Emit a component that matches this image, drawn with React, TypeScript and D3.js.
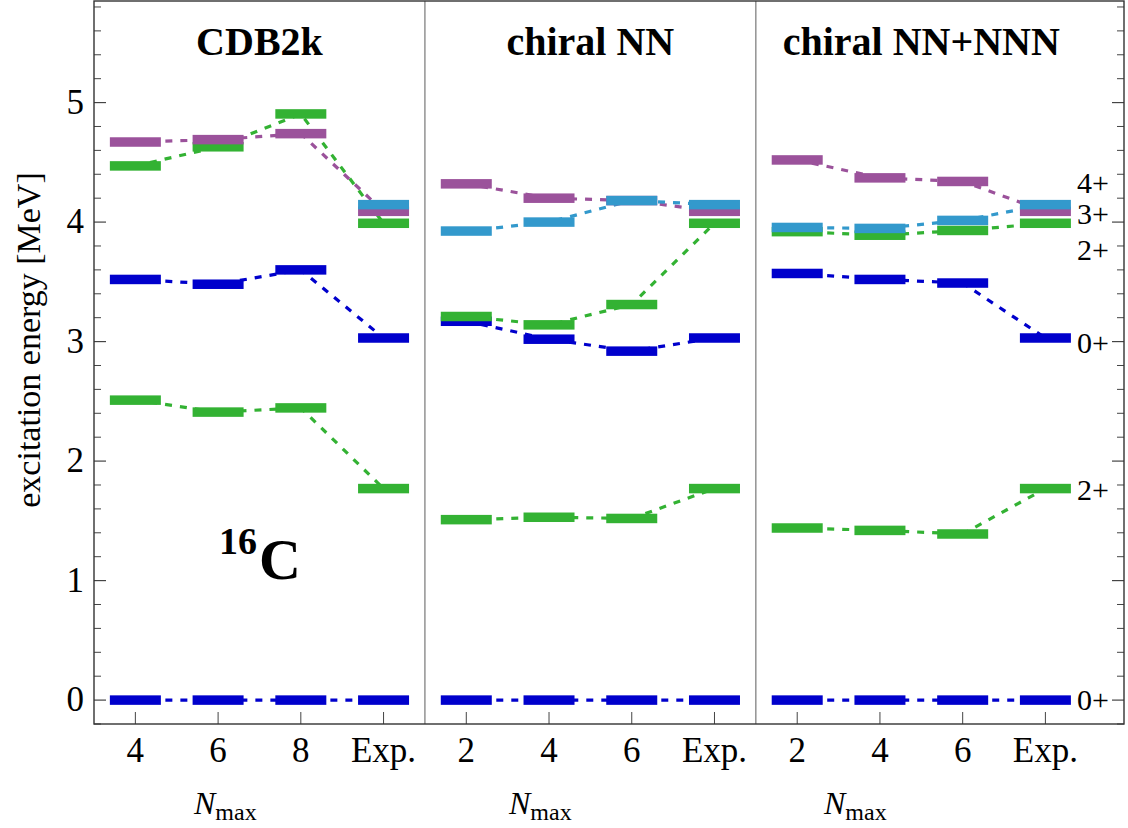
import React from "react";
import * as d3 from "d3";

// ---------- data ----------
const panelTitles = ["CDB2k", "chiral NN", "chiral NN+NNN"];
const categoryLabels = [
  ["4", "6", "8", "Exp."],
  ["2", "4", "6", "Exp."],
  ["2", "4", "6", "Exp."],
];
// excitation energies [MeV] per panel, per category (last = Exp.)
const groundZeroPlus = [
  [0, 0, 0, 0],
  [0, 0, 0, 0],
  [0, 0, 0, 0],
];
const firstTwoPlus = [
  [2.51, 2.41, 2.445, 1.77],
  [1.51, 1.53, 1.52, 1.77],
  [1.44, 1.42, 1.39, 1.77],
];
const secondZeroPlus = [
  [3.52, 3.48, 3.6, 3.03],
  [3.17, 3.02, 2.92, 3.03],
  [3.57, 3.52, 3.49, 3.03],
];
const secondTwoPlus = [
  [4.47, 4.63, 4.905, 3.99],
  [3.21, 3.14, 3.31, 3.99],
  [3.92, 3.89, 3.93, 3.99],
];
const fourPlus = [
  [4.67, 4.69, 4.74, 4.09],
  [4.32, 4.2, 4.18, 4.09],
  [4.52, 4.37, 4.34, 4.09],
];
const threePlus: (number | null)[][] = [
  [null, null, null, 4.146],
  [3.925, 4.0, 4.18, 4.146],
  [3.955, 3.947, 4.014, 4.146],
];
const rightLabels = ["4+", "3+", "2+", "0+", "2+", "0+"];
const rightLabelEnergies = [4.33, 4.07, 3.77, 2.99, 1.76, 0];
const yTickValues = [0, 1, 2, 3, 4, 5];

const BLUE = "#0000cc";
const GREEN = "#33b233";
const PURPLE = "#9b529b";
const LIGHTBLUE = "#3399cc";

const series = [
  { values: groundZeroPlus, color: BLUE },
  { values: firstTwoPlus, color: GREEN },
  { values: secondZeroPlus, color: BLUE },
  { values: secondTwoPlus, color: GREEN },
  { values: fourPlus, color: PURPLE },
  { values: threePlus, color: LIGHTBLUE },
];

// ---------- layout ----------
const W = 1128;
const H = 828;
const left = 94;
const right = 1124;
const top = 1;
const bottom = 724;
const FONT = "'Liberation Serif', 'Times New Roman', Times, serif";

export default function App() {
  const x = d3.scaleLinear().domain([0, 12.45]).range([left, right]);
  const y = d3.scaleLinear().domain([-0.2, 5.85]).range([bottom, top]);
  const cx = (p: number, j: number) => x(p * 4 + j + 0.5);
  const barW = 51;
  const barH = 9.5;

  const minorTicks = d3
    .range(-0.2, 5.85, 0.2)
    .map((v) => Math.round(v * 10) / 10)
    .filter((v) => Math.abs(v - Math.round(v)) > 1e-6);

  const line = d3
    .line<[number, number]>()
    .x((d) => d[0])
    .y((d) => d[1]);

  const lines: JSX.Element[] = [];
  const bars: JSX.Element[] = [];
  series.forEach((s, si) => {
    s.values.forEach((vals, p) => {
      const pts: [number, number][] = [];
      vals.forEach((v, j) => {
        if (v === null || v === undefined) return;
        pts.push([cx(p, j), y(v)]);
        bars.push(
          <rect
            key={`b-${si}-${p}-${j}`}
            x={cx(p, j) - barW / 2}
            y={y(v) - barH / 2}
            width={barW}
            height={barH}
            fill={s.color}
          />
        );
      });
      if (pts.length > 1) {
        lines.push(
          <path
            key={`l-${si}-${p}`}
            d={line(pts) || ""}
            fill="none"
            stroke={s.color}
            strokeWidth={3.2}
            strokeDasharray="7,8"
          />
        );
      }
    });
  });

  return (
    <svg
      width={W}
      height={H}
      style={{ position: "absolute", left: 0, top: 0, background: "#fff", fontFamily: FONT }}
    >
      <rect x={0} y={0} width={W} height={H} fill="#fff" />
      {/* panel dividers */}
      {[1, 2].map((p) => (
        <line
          key={`div${p}`}
          x1={x(p * 4)}
          x2={x(p * 4)}
          y1={top}
          y2={bottom}
          stroke="#777"
          strokeWidth={1.2}
        />
      ))}
      {/* y ticks left & right */}
      {yTickValues.map((v) => (
        <g key={`yt${v}`}>
          <line x1={left} x2={left + 12} y1={y(v)} y2={y(v)} stroke="#444" strokeWidth={1.2} />
          <line x1={right} x2={right - 12} y1={y(v)} y2={y(v)} stroke="#444" strokeWidth={1.2} />
          <text x={84} y={y(v) + 11} fontSize={35} textAnchor="end" fill="#000">
            {v}
          </text>
        </g>
      ))}
      {minorTicks.map((v) => (
        <g key={`ym${v}`}>
          <line x1={left} x2={left + 7} y1={y(v)} y2={y(v)} stroke="#444" strokeWidth={1} />
          <line x1={right} x2={right - 7} y1={y(v)} y2={y(v)} stroke="#444" strokeWidth={1} />
        </g>
      ))}
      {/* x ticks & labels */}
      {categoryLabels.map((labels, p) =>
        labels.map((lab, j) => (
          <g key={`xt${p}-${j}`}>
            <line x1={cx(p, j)} x2={cx(p, j)} y1={bottom} y2={bottom - 12} stroke="#444" strokeWidth={1} />
            <text x={cx(p, j)} y={762} fontSize={35} textAnchor="middle" fill="#000">
              {lab}
            </text>
          </g>
        ))
      )}
      {/* N_max labels */}
      {[194, 509, 824].map((xx, i) => (
        <text key={`nm${i}`} x={xx} y={814} fontSize={32} fill="#000">
          <tspan fontStyle="italic">N</tspan>
          <tspan fontSize={24} dy={6}>
            max
          </tspan>
        </text>
      ))}
      {/* level lines and bars */}
      <g>{lines}</g>
      <g>{bars}</g>
      {/* panel titles */}
      {panelTitles.map((t, p) => (
        <text
          key={`pt${p}`}
          x={(cx(p, 0) + cx(p, 3)) / 2}
          y={55}
          fontSize={40}
          fontWeight="bold"
          textAnchor="middle"
          fill="#000"
        >
          {t}
        </text>
      ))}
      {/* nucleus label */}
      <text x={219} y={554} fontSize={38} fontWeight="bold" fill="#000">
        16
      </text>
      <text x={259} y={579} fontSize={58} fontWeight="bold" fill="#000">
        C
      </text>
      {/* right labels */}
      {rightLabels.map((lab, i) => (
        <text key={`rl${i}`} x={1077} y={y(rightLabelEnergies[i]) + 10} fontSize={30} fill="#000">
          {lab}
        </text>
      ))}
      {/* y axis label */}
      <text
        transform={`translate(40,340) rotate(-90)`}
        fontSize={34}
        textAnchor="middle"
        fill="#000"
      >
        excitation energy [MeV]
      </text>
      {/* frame */}
      <rect
        x={left}
        y={top}
        width={right - left}
        height={bottom - top}
        fill="none"
        stroke="#333"
        strokeWidth={1.4}
      />
    </svg>
  );
}
